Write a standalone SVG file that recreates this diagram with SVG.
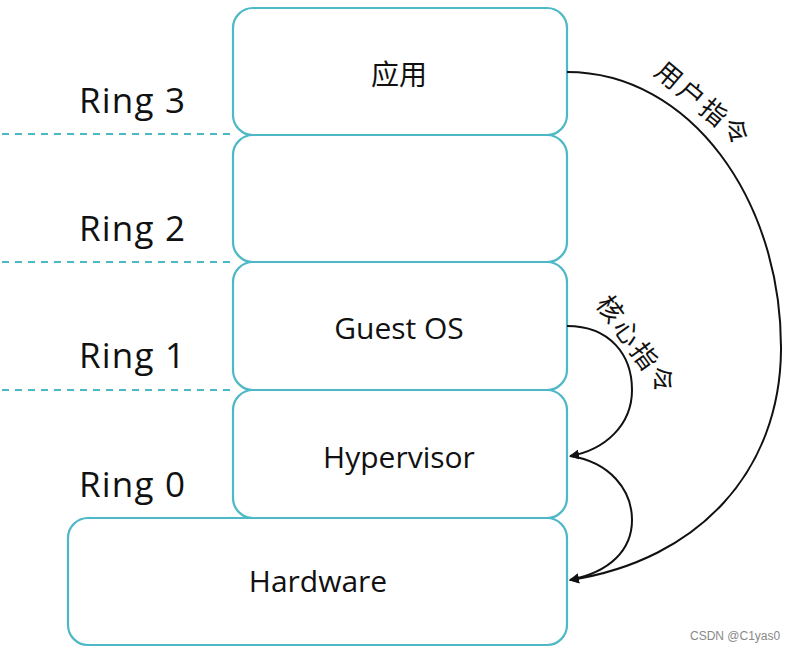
<svg xmlns="http://www.w3.org/2000/svg" width="788" height="650" viewBox="0 0 788 650">
<style>
.box{fill:#fff;stroke:#4db8c6;stroke-width:2.2}
.dash{stroke:#4db8c6;stroke-width:1.8;stroke-dasharray:7 6;fill:none}
.ring{font-family:"Open Sans","Noto Sans",sans-serif;font-size:35px;fill:#111;letter-spacing:1.2px}
.lbl{font-family:"Open Sans","Noto Sans","Noto Sans CJK SC",sans-serif;font-size:30px;fill:#111;text-anchor:middle}
.cjk{font-family:"Noto Sans CJK SC",sans-serif;font-size:28px;fill:#111;text-anchor:middle}
.cn{font-family:"Noto Sans CJK SC",sans-serif;font-size:26px;fill:#111;letter-spacing:3px}
.arc{fill:none;stroke:#111;stroke-width:2}
</style>
<defs>
<marker id="ah" viewBox="0 0 10 10" refX="9" refY="5" markerWidth="10" markerHeight="10" markerUnits="userSpaceOnUse" orient="auto">
<path d="M0,0 L10,5 L0,10 z" fill="#111"/>
</marker>
</defs>
<g id="dashes">
<line class="dash" x1="2" y1="134" x2="233" y2="134"/>
<line class="dash" x1="2" y1="262" x2="233" y2="262"/>
<line class="dash" x1="2" y1="390" x2="233" y2="390"/>
</g>
<g id="ring-labels">
<text class="ring" x="79" y="113">Ring 3</text>
<text class="ring" x="79" y="241">Ring 2</text>
<text class="ring" x="79" y="368">Ring 1</text>
<text class="ring" x="79" y="497">Ring 0</text>
</g>
<g id="app"><rect class="box" x="233" y="8" width="334" height="127" rx="20"/><text class="cjk" x="399" y="85">应用</text></g>
<g id="ring2"><rect class="box" x="233" y="135" width="334" height="127" rx="20"/></g>
<g id="guestos"><rect class="box" x="233" y="262" width="334" height="128" rx="20"/><text class="lbl" x="399" y="339">Guest OS</text></g>
<g id="hypervisor"><rect class="box" x="233" y="390" width="334" height="128" rx="20"/><text class="lbl" x="399" y="468">Hypervisor</text></g>
<g id="hardware"><rect class="box" x="68" y="518" width="499" height="127" rx="20"/><text class="lbl" x="318" y="592">Hardware</text></g>
<g id="connectors">
<path class="arc" d="M567,72 C690,72 782,200 781,350 C780,470 700,560 570,580" marker-end="url(#ah)"/>
<path class="arc" d="M567,326 C610,326 632,355 632,390 C632,425 605,450 570,456" marker-end="url(#ah)"/>
<path class="arc" d="M570,456 C610,462 632,490 632,520 C632,550 610,572 570,580" marker-end="url(#ah)"/>
<text class="cn" transform="translate(653,74) rotate(40)">用户指令</text>
<text class="cn" transform="translate(595,304) rotate(54)">核心指令</text>
</g>
<text x="690" y="640" font-family="Liberation Sans,sans-serif" font-size="12" fill="#888">CSDN @C1yas0</text>
</svg>
